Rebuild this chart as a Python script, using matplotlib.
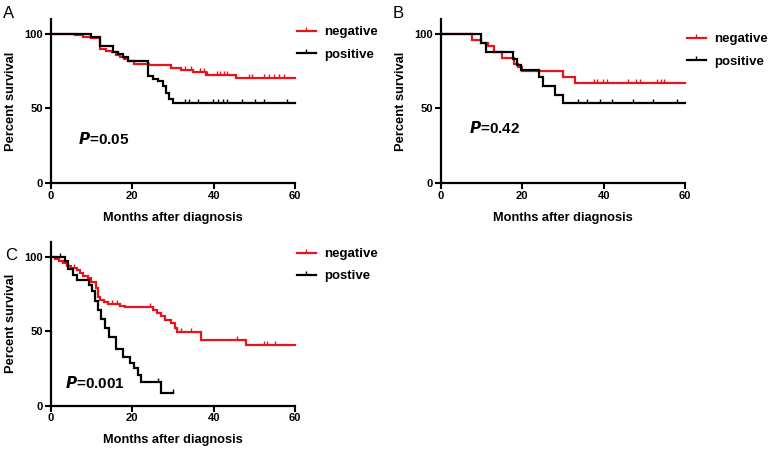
import numpy as np
import matplotlib
matplotlib.use("Agg")
import matplotlib.pyplot as plt
from matplotlib.lines import Line2D

plt.rcParams['font.family'] = ['Liberation Sans', 'DejaVu Sans']

RED = "#e8141b"
BLACK = "#000000"

# ---- panel A ----
a_neg_t = [0, 6, 8, 10, 12, 13.5, 15, 16, 17, 18, 19, 20.5, 24, 29.5, 32, 35, 38, 45.5]
a_neg_s = [100, 99, 98, 97, 89.5, 88.5, 87.5, 86, 84.5, 83, 81.5, 80, 79, 77, 76, 74.5, 72.5, 70.5]
a_neg_cens = [33, 34.3, 36.7, 37.5, 38.3, 40.8, 41.6, 42.4, 43.3, 48.6, 49.4, 52.3, 53.5, 54.7, 55.9, 57.2]
a_pos_t = [0, 10, 12.2, 15.3, 16.5, 17.7, 18.9, 23.9, 25, 26.2, 27.5, 28.3, 29.1, 29.9]
a_pos_s = [100, 97.8, 91.5, 88, 86.5, 84.5, 82, 71.5, 70, 68, 65, 60.5, 56, 53.5]
a_pos_cens = [33, 34, 36.2, 39.9, 41.1, 42.2, 43.2, 47, 50, 52.2, 58]

# ---- panel B ----
b_neg_t = [0, 7.6, 10, 11.5, 13, 15, 18, 19, 20, 30, 33]
b_neg_s = [100, 95.5, 94, 91.5, 88, 84, 80, 77.5, 75, 71, 67]
b_neg_cens = [37.6, 38.3, 39.9, 40.9, 46, 47.9, 48.9, 53, 54, 54.8]
b_pos_t = [0, 9.8, 11, 17.8, 18.8, 19.6, 24, 25.2, 28, 30]
b_pos_s = [100, 94, 88, 83, 79, 76, 71, 65, 59, 53.5]
b_pos_cens = [33.8, 36, 39.1, 42.1, 47.1, 52, 58]

# ---- panel C ----
c_neg_t = [0, 1, 2, 3, 4, 5, 6.5, 7.2, 8, 9.2, 10, 11, 11.5, 12.2, 13, 14, 17, 18.2,
           25, 26, 27, 28, 29.5, 30.5, 31, 36.8, 48]
c_neg_s = [100, 98.5, 97, 95.5, 94, 92.5, 91, 89, 87, 85.5, 83, 79, 73, 71, 69.5, 68.5, 67, 66,
           64, 62, 60, 57.5, 55.5, 52, 49.5, 44, 41]
c_neg_cens = [5.8, 15, 16.2, 24.4, 25, 32, 34.5, 45.8, 52.2, 53, 55]
c_pos_t = [0, 3.5, 4.3, 5.5, 6.5, 9.5, 10.2, 10.8, 11.5, 12.3, 13.2, 14.2, 16.1, 17.8,
           19.5, 20.5, 21.5, 22.2, 27]
c_pos_s = [100, 97, 91.5, 87.5, 84.5, 81, 77, 70, 64, 58, 52, 46, 38, 33,
           28.5, 25, 20.5, 16, 8.5]
c_pos_cens = [2.2, 26.2, 30]

panels = [
    dict(letter="A", end_neg=60, end_pos=60, neg=(a_neg_t, a_neg_s, a_neg_cens),
         pos=(a_pos_t, a_pos_s, a_pos_cens), pos_label="positive", p="0.05"),
    dict(letter="B", end_neg=60, end_pos=60, neg=(b_neg_t, b_neg_s, b_neg_cens),
         pos=(b_pos_t, b_pos_s, b_pos_cens), pos_label="positive", p="0.42"),
    dict(letter="C", end_neg=60, end_pos=30, neg=(c_neg_t, c_neg_s, c_neg_cens),
         pos=(c_pos_t, c_pos_s, c_pos_cens), pos_label="postive", p="0.001"),
]

W, H = 772, 451
fig = plt.figure(figsize=(W / 100, H / 100), dpi=100)

# axes boxes in pixels: (x0, x60, y0, y110)
boxes = [(50.7, 295.3, 183.0, 18.8), (440.7, 685.3, 183.0, 18.8), (50.7, 295.3, 405.7, 241.8)]
p_pos = [(0.112, 0.268), (0.116, 0.337), (0.058, 0.14)]
leg_y = [0.955, 0.912, 0.962]
letter_pos = [(3, 13), (393, 13), (5, 256)]


def draw_km(ax, t, s, cens, end, color):
    tt = list(t) + [end]
    ss = list(s) + [s[-1]]
    ax.step(tt, ss, where="post", color=color, lw=1.6, clip_on=False, solid_joinstyle="miter")
    idx = np.searchsorted(np.array(t), np.array(cens), side="right") - 1
    lv = np.array(s)[idx]
    ax.plot(cens, lv, linestyle="none", marker=2, ms=3, mew=1.0, color=color, clip_on=False)


for i, pnl in enumerate(panels):
    x0, x60, y0, y110 = boxes[i]
    ax = fig.add_axes([x0 / W, 1 - y0 / H, (x60 - x0) / W, (y0 - y110) / H])
    draw_km(ax, *pnl["neg"], pnl["end_neg"], RED)
    draw_km(ax, *pnl["pos"], pnl["end_pos"], BLACK)
    ax.set_xlim(0, 60)
    ax.set_ylim(0, 110)
    ax.set_xticks([0, 20, 40, 60])
    ax.set_yticks([0, 50, 100])
    for sp in ["top", "right"]:
        ax.spines[sp].set_visible(False)
    for sp in ["left", "bottom"]:
        ax.spines[sp].set_linewidth(1.6)
    ax.tick_params(direction="out", length=4, width=1.5, labelsize=8, pad=1.5)
    for lab in ax.get_xticklabels() + ax.get_yticklabels():
        lab.set_fontweight("bold")
    ax.set_xlabel("Months after diagnosis", fontsize=9.2, fontweight="bold", labelpad=8)
    ax.set_ylabel("Percent survival", fontsize=9.3, fontweight="bold", labelpad=5)
    ax.text(p_pos[i][0], p_pos[i][1], r"$\bfit{P}$" + "=" + pnl["p"], transform=ax.transAxes,
            fontsize=11, fontweight="bold", va="center")
    handles = [Line2D([], [], color=RED, lw=1.6, marker=2, ms=3, mew=1.0),
               Line2D([], [], color=BLACK, lw=1.6, marker=2, ms=3, mew=1.0)]
    ax.legend(handles, ["negative", pnl["pos_label"]], loc="upper left",
              bbox_to_anchor=(1.005, leg_y[i]), frameon=False, borderpad=0, borderaxespad=0,
              handlelength=1.5, handletextpad=0.6, labelspacing=0.75,
              prop=dict(size=9.5, weight="bold"))
    fig.text(letter_pos[i][0] / W, 1 - letter_pos[i][1] / H, pnl["letter"], fontsize=12,
             va="center", ha="left")

fig.savefig("out.png", dpi=100)
